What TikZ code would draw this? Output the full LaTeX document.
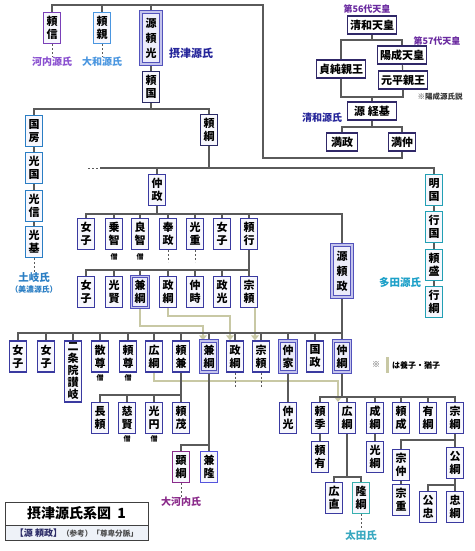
\documentclass[tikz,border=0pt]{standalone}
\usepackage{fontspec}
\newfontfamily\cjk{Noto Sans CJK JP}
\usetikzlibrary{arrows.meta,backgrounds}
\definecolor{bc}{HTML}{3A3AA0}
\definecolor{bfill}{HTML}{F7F7FD}
\definecolor{hlc}{HTML}{5252BC}
\definecolor{hld}{HTML}{C4C4EC}
\definecolor{hlf}{HTML}{ECECFA}
\definecolor{cnavy}{HTML}{2A2A66}
\definecolor{cpurple}{HTML}{7A40B8}
\definecolor{cpurplet}{HTML}{8A50D0}
\definecolor{clblue}{HTML}{4A96E0}
\definecolor{ctoki}{HTML}{2A7EC4}
\definecolor{ctada}{HTML}{22A0B4}
\definecolor{ctadat}{HTML}{1CA0C8}
\definecolor{coko}{HTML}{8A2A8A}
\definecolor{ckt}{HTML}{5555DD}
\definecolor{cota}{HTML}{38B0B0}
\definecolor{cotat}{HTML}{38A8C0}
\definecolor{cemp}{HTML}{302868}
\definecolor{cempt}{HTML}{6A2AA0}
\definecolor{cdblue}{HTML}{25259A}
\definecolor{lc}{HTML}{5A5A5A}
\definecolor{adc}{HTML}{C8C8A4}
\definecolor{subfill}{HTML}{EEF2F8}
\newcommand\bxfont{\cjk\bfseries\fontsize{11}{13}\selectfont}
\newcommand\lfont[1]{\cjk\bfseries\fontsize{#1}{#1}\selectfont}
\begin{document}
\begin{tikzpicture}[x=1pt,y=-1pt,
  box/.style={draw=bc, fill=bfill, line width=1.2pt, minimum width=17pt, minimum height=31pt, inner sep=0pt, align=center, font=\bxfont},
  vthree/.style={minimum width=20pt, minimum height=52pt, font=\cjk\bfseries\fontsize{11}{15}\selectfont},
  hl/.style={draw=hlc, double=hld, double distance=1.2pt, line width=1.2pt, fill=hlf},
  emp/.style={draw=cemp, fill=white, line width=1.4pt, minimum width=49pt, minimum height=18pt, inner sep=0pt, font=\bxfont},
  lab/.style={inner sep=0pt, font=\lfont{10}},
  conn/.style={draw=lc, line width=1.1pt},
  dsh/.style={draw=lc, line width=1pt, dash pattern=on 2pt off 2pt},
  adopt/.style={draw=adc, line width=2.8pt, -{Triangle[width=7.5pt,length=5pt]}}
]
\useasboundingbox (0,0) rectangle (474,551);
% ---- top
\node[box,draw=cpurple] (yorinobu) at (52,28) {頼\\信};
\node[box,draw=clblue] (yorichika) at (102,28) {頼\\親};
\node[box,hl,vthree] (yorimitsu) at (151,38) {源\\頼\\光};
\node[box,draw=cnavy] (yorikuni) at (151,87) {頼\\国};
\node[lab,text=cpurplet] (kawachi) at (52,62) {河内源氏};
\node[lab,text=clblue] (yamato) at (102,62) {大和源氏};
\node[lab,text=cdblue,font=\lfont{11}] (settsu) at (191,53) {摂津源氏};
% ---- Toki
\node[box,draw=ctoki] (kunifusa) at (34,131) {国\\房};
\node[box,draw=ctoki] (mitsukuni) at (34,168) {光\\国};
\node[box,draw=ctoki] (mitsunobu) at (34,206) {光\\信};
\node[box,draw=ctoki] (mitsumoto) at (34,242) {光\\基};
\node[lab,text=ctoki,font=\lfont{10.5}] (toki) at (34,277) {土岐氏};
\node[lab,text=ctoki,font=\lfont{7.8}] (mino) at (34,290) {（美濃源氏）};
\node[box,draw=cnavy] (yorituna) at (209,130) {頼\\綱};
\node[box] (nakamasa) at (157,190) {仲\\政};
% ---- emperors
\node[lab,text=cempt,font=\lfont{9}] (d56) at (367,9) {第56代天皇};
\node[emp] (seiwa) at (372,25) {清和天皇};
\node[emp] (sadazumi) at (341,69) {貞純親王};
\node[lab,text=cempt,font=\lfont{9}] (d57) at (437,41) {第57代天皇};
\node[emp] (yozei) at (402,55) {陽成天皇};
\node[emp] (motohira) at (403,80) {元平親王};
\node[lab,text=black!80,font=\lfont{7.5}] (yzsetsu) at (440,97) {※陽成源氏説};
\node[emp] (tsunemoto) at (372,111) {源 経基};
\node[lab,text=cdblue] (seiwagenji) at (322,118) {清和源氏};
\node[emp,minimum width=31pt] (mitsumasa) at (342,142) {満政};
\node[emp,minimum width=27pt] (mitsunaka) at (402,142) {満仲};
% ---- Tada
\node[box,draw=ctada] (akikuni) at (434,190) {明\\国};
\node[box,draw=ctada] (yukikuni) at (434,227) {行\\国};
\node[box,draw=ctada] (yorimori) at (434,265) {頼\\盛};
\node[box,draw=ctada] (yukitsuna) at (434,302) {行\\綱};
\node[lab,text=ctadat,font=\lfont{10.5}] (tada) at (400,283) {多田源氏};
% ---- row 2
\node[box] (r2a) at (86,234) {女\\子};
\node[box] (r2b) at (114,234) {乗\\智};
\node[box] (r2c) at (140,234) {良\\智};
\node[box] (r2d) at (168,234) {奉\\政};
\node[box] (r2e) at (195,234) {光\\重};
\node[box] (r2f) at (222,234) {女\\子};
\node[box] (r2g) at (249,234) {頼\\行};
\node[lab,font=\lfont{7}] (so1) at (114,257) {僧};
\node[lab,font=\lfont{7}] (so2) at (140,257) {僧};
\node[box,hl,vthree] (yorimasa) at (342,271) {源\\頼\\政};
% ---- row 3
\node[box] (r3a) at (86,292) {女\\子};
\node[box] (r3b) at (114,292) {光\\賢};
\node[box,hl] (r3c) at (140,292) {兼\\綱};
\node[box] (r3d) at (168,292) {政\\綱};
\node[box] (r3e) at (195,292) {仲\\時};
\node[box] (r3f) at (222,292) {政\\光};
\node[box] (r3g) at (249,292) {宗\\頼};
% ---- row 4
\node[box] (r4a) at (18,356.5) {女\\子};
\node[box] (r4b) at (46,356.5) {女\\子};
\node[box,minimum height=61pt,font=\cjk\bfseries\fontsize{11}{12}\selectfont] (r4c) at (73,371.5) {二\\条\\院\\讃\\岐};
\node[box] (r4d) at (100,356.5) {散\\尊};
\node[box] (r4e) at (128,356.5) {頼\\尊};
\node[box] (r4f) at (154,356.5) {広\\綱};
\node[box] (r4g) at (181,356.5) {頼\\兼};
\node[box,hl] (r4h) at (209,356.5) {兼\\綱};
\node[box] (r4i) at (235,356.5) {政\\綱};
\node[box] (r4j) at (261,356.5) {宗\\頼};
\node[box,hl] (r4k) at (288,356.5) {仲\\家};
\node[box] (r4l) at (315,356.5) {国\\政};
\node[box,hl] (r4m) at (342,356.5) {仲\\綱};
\node[lab,font=\lfont{7}] (so3) at (100,378) {僧};
\node[lab,font=\lfont{7}] (so4) at (128,378) {僧};
% ---- row 5
\node[box] (r5a) at (100,418) {長\\頼};
\node[box] (r5b) at (127,418) {慈\\賢};
\node[box] (r5c) at (154,418) {光\\円};
\node[box] (r5d) at (181,418) {頼\\茂};
\node[lab,font=\lfont{7}] (so5) at (127,439) {僧};
\node[lab,font=\lfont{7}] (so6) at (154,439) {僧};
\node[box] (r5e) at (288,418) {仲\\光};
\node[box] (r5f) at (320,418) {頼\\季};
\node[box] (r5g) at (347,418) {広\\綱};
\node[box] (r5h) at (375,418) {成\\綱};
\node[box] (r5i) at (401,418) {頼\\成};
\node[box] (r5j) at (428,418) {有\\綱};
\node[box] (r5k) at (455,418) {宗\\綱};
% ---- row 6/7
\node[box,draw=coko] (r6a) at (181,467) {顕\\綱};
\node[box,draw=ckt] (r6b) at (209,467) {兼\\隆};
\node[lab,text=coko] (oko) at (181,502) {大河内氏};
\node[box] (r6c) at (320,457) {頼\\有};
\node[box] (r6d) at (375,457) {光\\綱};
\node[box] (r6e) at (401,465) {宗\\仲};
\node[box] (r6f) at (455,463) {公\\綱};
\node[box] (r7a) at (334,498) {広\\直};
\node[box,draw=cota] (r7b) at (361,498) {隆\\綱};
\node[lab,text=cotat,font=\lfont{10.5}] (ota) at (361,535) {太田氏};
\node[box] (r7c) at (401,500) {宗\\重};
\node[box] (r7d) at (428,507) {公\\忠};
\node[box] (r7e) at (455,507) {忠\\綱};
% ---- legend
\node[lab,font=\lfont{8},text=black!70] (kome) at (376,365) {※};
\node[lab,font=\lfont{8},anchor=west] (legend) at (392,365) {は養子・猶子};
% ---- title
\node[draw=black!75, line width=1pt, fill=white, minimum width=143pt, minimum height=23pt, inner sep=0pt, font=\lfont{14}] (title) at (76.5,513.5) {摂津源氏系図\ \ 1};
\node[draw=black!75, line width=1pt, fill=subfill, minimum width=143pt, minimum height=15pt, inner sep=0pt] (sub) at (76.5,533) {{\lfont{9}\color{cnavy}【源 頼政】}{\lfont{7.6}\color{black!70}（参考）「尊卑分脈」}};

\begin{pgfonlayer}{background}
\fill[white] (0,0) rectangle (474,551);
\draw[adc, line width=3pt] (387,357) -- (387,373);
% adoption arrows
\coordinate (ad1) at (203,326);
\draw[adopt] (r3c.south) |- (ad1) -- (ad1 |- r4h.north);
\coordinate (ad2) at (230,316);
\draw[adopt] (r3d.south) |- (ad2) -- (ad2 |- r4i.north);
\coordinate (ad3) at (255,300);
\draw[adopt] (ad3 |- r3g.south) -- (ad3 |- r4j.north);
\coordinate (ad4) at (338,381);
\draw[adopt] (r4f.south) |- (ad4) -- (ad4 |- r5g.north);
% top
\coordinate (mnturn) at (263,158);
\coordinate (topl) at (52,5);
\draw[conn] (mitsunaka.south) |- (mnturn) |- (topl) -- (yorinobu.north);
\draw[conn] (yorichika.north) -- (yorichika.north |- topl);
\draw[conn] (yorimitsu.north) -- (yorimitsu.north |- topl);
\draw[dsh] (yorinobu.south) -- (kawachi.north);
\draw[dsh] (yorichika.south) -- (yamato.north);
\draw[conn] (yorimitsu) -- (yorikuni);
\coordinate (kunis) at (151,109);
\draw[conn] (yorikuni.south) -- (kunis);
\draw[conn] (kunifusa.north) |- (kunis) -| (yorituna.north);
\draw[conn] (kunifusa) -- (mitsukuni) -- (mitsunobu) -- (mitsumoto);
\draw[dsh] (mitsumoto.south) -- (toki.north);
\coordinate (tss) at (209,168);
\coordinate (tsl) at (100,168);
\coordinate (tsl0) at (88,168);
\draw[conn] (yorituna.south) -- (tss);
\draw[conn] (tsl) -- (tss) -| (akikuni.north);
\draw[dsh] (tsl0) -- (tsl);
\draw[conn] (nakamasa.north) -- (nakamasa.north |- tss);
\draw[conn] (akikuni) -- (yukikuni) -- (yorimori) -- (yukitsuna);
% emperors
\coordinate (ses) at (372,40);
\draw[conn] (seiwa.south) -- (ses);
\draw[conn] (sadazumi.north) |- (ses) -| (yozei.north);
\draw[conn] (yozei) -- (motohira);
\coordinate (tsj) at (372,97);
\draw[conn] (sadazumi.south) |- (tsj) -| (motohira.south);
\draw[conn] (tsj) -- (tsunemoto.north);
\coordinate (tms) at (372,127);
\draw[conn] (tsunemoto.south) -- (tms);
\draw[conn] (mitsumasa.north) |- (tms) -| (mitsunaka.north);
% nakamasa
\coordinate (nms) at (157,214);
\draw[conn] (nakamasa.south) -- (nms);
\draw[conn] (r2a.north) |- (nms) -| (yorimasa.north);
\foreach \n in {r2b,r2c,r2d,r2e,r2f,r2g} \draw[conn] (\n.north) -- (\n.north |- nms);
\draw[dsh] (r2d.south) -- ++(0,12);
\draw[dsh] (r2e.south) -- ++(0,12);
% yoriyuki
\coordinate (ygs) at (249,270);
\draw[conn] (r2g) -- (r3g);
\draw[conn] (r3a.north) |- (ygs);
\foreach \n in {r3b,r3c,r3d,r3e,r3f} \draw[conn] (\n.north) -- (\n.north |- ygs);
% yorimasa
\coordinate (yms) at (342,333);
\draw[conn] (yorimasa) -- (r4m);
\draw[conn] (r4a.north) |- (yms);
\foreach \n in {r4b,r4c,r4d,r4e,r4f,r4g,r4h,r4i,r4j,r4k,r4l} \draw[conn] (\n.north) -- (\n.north |- yms);
\draw[dsh] (r4i.south) -- ++(0,14);
\draw[dsh] (r4j.south) -- ++(0,14);
% yorikane
\coordinate (ykn) at (181,395);
\draw[conn] (r4g) -- (r5d);
\draw[conn] (r5a.north) |- (ykn);
\foreach \n in {r5b,r5c} \draw[conn] (\n.north) -- (\n.north |- ykn);
% kanetsuna
\coordinate (kts) at (209,445);
\draw[conn] (r4h) -- (r6b);
\draw[conn] (r6a.north) |- (kts);
\draw[dsh] (r6a.south) -- (oko.north);
% nakaie
\draw[conn] (r4k) -- (r5e);
% nakatsuna
\coordinate (nts) at (342,397);
\draw[conn] (r4m.south) -- (nts);
\draw[conn] (r5f.north) |- (nts) -| (r5k.north);
\foreach \n in {r5g,r5h,r5i,r5j} \draw[conn] (\n.north) -- (\n.north |- nts);
\draw[conn] (r5f) -- (r6c);
\draw[conn] (r5h) -- (r6d);
% hirotsuna
\coordinate (hts) at (347,477);
\draw[conn] (r5g.south) -- (hts);
\draw[conn] (r7a.north) |- (hts) -| (r7b.north);
\draw[dsh] (r7b.south) -- (ota.north);
% munetsuna
\coordinate (mts) at (455,440);
\draw[conn] (r5k) -- (r6f);
\draw[conn] (r6e.north) |- (mts);
\draw[conn] (r6e) -- (r7c);
\coordinate (kts2) at (455,485);
\draw[conn] (r6f) -- (r7e);
\draw[conn] (r7d.north) |- (kts2);
\end{pgfonlayer}
\end{tikzpicture}
\end{document}
